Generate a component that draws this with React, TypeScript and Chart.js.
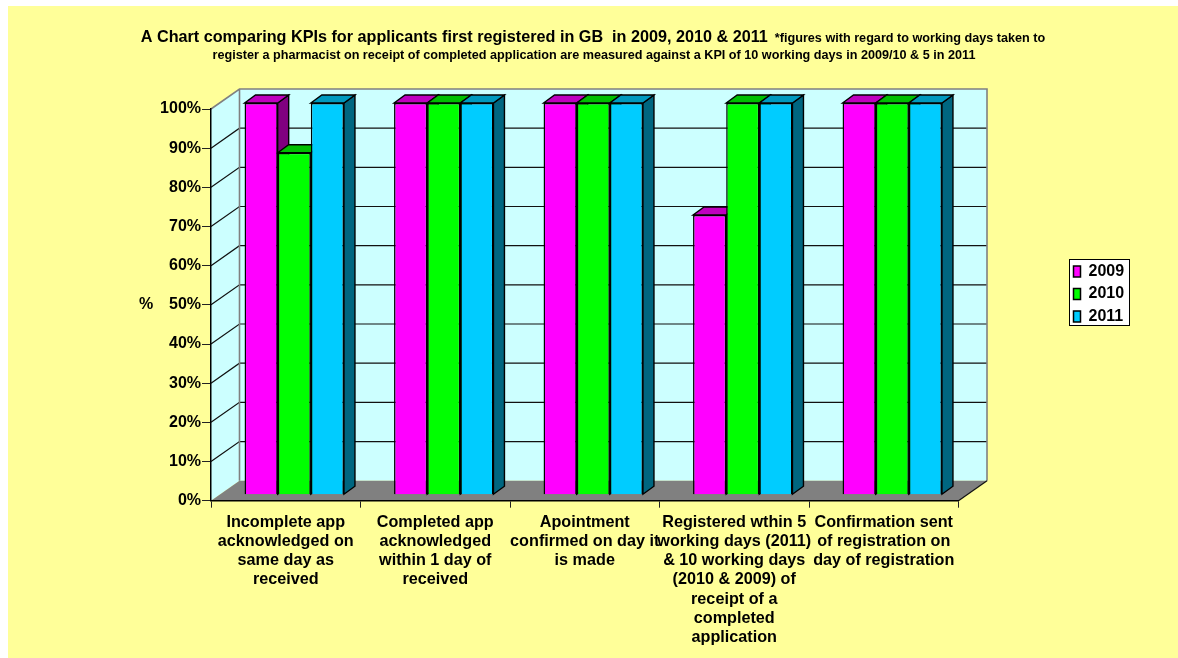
import React, { useEffect, useRef } from "react";
import { Chart, registerables } from "chart.js";

Chart.register(...registerables);

const categories: string[][] = [
  ["Incomplete app", "acknowledged on", "same day as", "received"],
  ["Completed app", "acknowledged", "within 1 day of", "received"],
  ["Apointment", "confirmed on day it", "is made"],
  ["Registered wthin 5", "working days (2011)", "& 10 working days", "(2010 & 2009) of", "receipt of a", "completed", "application"],
  ["Confirmation sent", "of registration on", "day of registration"],
];
const series2009 = [100, 100, 100, 71.4, 100];
const series2010 = [87.3, 100, 100, 100, 100];
const series2011 = [100, 100, 100, 100, 100];
const seriesNames = ["2009", "2010", "2011"];
const frontColors = ["#FF00FF", "#00FF00", "#00CCFF"];
const topColors = ["#BF00BF", "#00BF00", "#0099BF"];
const sideColors = ["#800080", "#008000", "#006680"];

const titleMain = "A Chart comparing KPIs for applicants first registered in GB  in 2009, 2010 & 2011";
const titleNote = "  *figures with regard to working days taken to";
const titleLine2 = "register a pharmacist on receipt of completed application are measured against a KPI of 10 working days in 2009/10 & 5 in 2011";
const yAxisTitle = "%";

const FONT = '"Liberation Sans", Arial, sans-serif';
const CANVAS_W = 1170;
const CANVAS_H = 652;
const WALL_DX = 28.5;
const WALL_DY = -20;
const BAR_DX = 8.5;
const BAR_DY = -6;
const DEPTH_DX = 11;
const DEPTH_DY = -8;

function poly(ctx: CanvasRenderingContext2D, pts: number[][], fill?: string, stroke?: string, lw = 1) {
  ctx.beginPath();
  pts.forEach((p, i) => (i ? ctx.lineTo(p[0], p[1]) : ctx.moveTo(p[0], p[1])));
  ctx.closePath();
  if (fill) {
    ctx.fillStyle = fill;
    ctx.fill();
  }
  if (stroke) {
    ctx.strokeStyle = stroke;
    ctx.lineWidth = lw;
    ctx.stroke();
  }
}

const scene3d = {
  id: "scene3d",
  afterLayout(chart: any) {
    const lg = chart.legend;
    lg.left = 1059;
    lg.right = 1160;
    lg.top = 251;
    lg.bottom = 420;
    lg.adjustHitBoxes();
  },
  beforeDraw(chart: any) {
    const { ctx, chartArea: a, scales } = chart;
    const L = a.left, R = a.right, T = a.top, B = a.bottom;
    ctx.save();
    ctx.fillStyle = "#FFFF99";
    ctx.fillRect(0, 0, CANVAS_W, CANVAS_H);

    // title lines: one run of large text, one of small text on the first line
    ctx.fillStyle = "#000";
    ctx.textBaseline = "alphabetic";
    ctx.textAlign = "left";
    const big = `bold 16.2px ${FONT}`;
    const small = `bold 12.65px ${FONT}`;
    ctx.font = big;
    const w1 = ctx.measureText(titleMain).width;
    ctx.font = small;
    const w2 = ctx.measureText(titleNote).width;
    const x0 = 585 - (w1 + w2) / 2;
    ctx.font = big;
    ctx.fillText(titleMain, x0, 35.5);
    ctx.font = small;
    ctx.fillText(titleNote, x0 + w1, 35.5);
    ctx.textAlign = "center";
    ctx.fillText(titleLine2, 586, 52.5);

    // horizontal axis title, which the library would rotate
    ctx.font = `bold 16px ${FONT}`;
    ctx.textBaseline = "middle";
    ctx.fillText(yAxisTitle, 138, (T + B) / 2 - 0.5);

    // walls and floor
    const bx = L + WALL_DX, by = WALL_DY;
    poly(ctx, [[L, T], [bx, T + by], [bx, B + by], [L, B]], "#CCFFFF");
    poly(ctx, [[bx, T + by], [R + WALL_DX, T + by], [R + WALL_DX, B + by], [bx, B + by]], "#CCFFFF");
    poly(ctx, [[L, B], [bx, B + by], [R + WALL_DX, B + by], [R, B]], "#808080");

    // gridlines on the two walls
    ctx.strokeStyle = "#111";
    ctx.lineWidth = 1.2;
    for (const t of scales.y.ticks) {
      if (t.value === 0 || t.value === 100) continue;
      const y = scales.y.getPixelForValue(t.value);
      ctx.beginPath();
      ctx.moveTo(L, y);
      ctx.lineTo(bx, y + by);
      ctx.lineTo(R + WALL_DX, y + by);
      ctx.stroke();
    }
    // wall outline
    ctx.strokeStyle = "#808080";
    ctx.lineWidth = 1.6;
    ctx.beginPath();
    ctx.moveTo(L, T);
    ctx.lineTo(bx, T + by);
    ctx.lineTo(R + WALL_DX, T + by);
    ctx.lineTo(R + WALL_DX, B + by);
    ctx.moveTo(bx, T + by);
    ctx.lineTo(bx, B + by);
    ctx.stroke();
    ctx.strokeStyle = "#111";
    ctx.lineWidth = 1.2;
    ctx.beginPath();
    ctx.moveTo(R, B);
    ctx.lineTo(R + WALL_DX, B + by);
    ctx.stroke();
    // legend frame
    ctx.fillStyle = "#FFFFFF";
    ctx.strokeStyle = "#000";
    ctx.lineWidth = 1;
    ctx.fillRect(1061.5, 253.5, 60, 66);
    ctx.strokeRect(1061.5, 253.5, 60, 66);
    ctx.restore();
  },
  beforeDatasetsDraw(chart: any) {
    const { ctx } = chart;
    // legend swatches, wider than the gap the library leaves for them
    ctx.save();
    chart.legend.legendHitBoxes.forEach((hb: any, i: number) => {
      const x = Math.round(hb.left) + 0.5;
      const y = Math.round(hb.top + hb.height / 2 - 5.5) + 0.5;
      ctx.fillStyle = frontColors[i];
      ctx.strokeStyle = "#000";
      ctx.lineWidth = 1.2;
      ctx.fillRect(x, y, 10.5, 10.5);
      ctx.strokeRect(x, y, 10.5, 10.5);
    });
    ctx.restore();

    ctx.save();
    ctx.translate(BAR_DX, BAR_DY);
    chart.data.datasets.forEach((_: any, di: number) => {
      chart.getDatasetMeta(di).data.forEach((bar: any) => {
        const { x, y, base, width } = bar.getProps(["x", "y", "base", "width"], true);
        const l = x - width / 2;
        const r = x + width / 2;
        poly(ctx, [[r, y], [r + DEPTH_DX, y + DEPTH_DY], [r + DEPTH_DX, base + DEPTH_DY], [r, base]], sideColors[di], "#000", 1.4);
        poly(ctx, [[l, y], [l + DEPTH_DX, y + DEPTH_DY], [r + DEPTH_DX, y + DEPTH_DY], [r, y]], topColors[di], "#000", 1.4);
      });
    });
  },
  afterDatasetsDraw(chart: any) {
    chart.ctx.restore();
  },
};

const tickFont = { family: FONT, size: 16, weight: "bold" as const };

export default function App() {
  const ref = useRef<HTMLCanvasElement>(null);
  useEffect(() => {
    const canvas = ref.current!;
    const values = [series2009, series2010, series2011];
    const chart = new Chart(canvas, {
      type: "bar",
      data: {
        labels: categories as any,
        datasets: seriesNames.map((name, i) => ({
          label: name,
          data: values[i],
          backgroundColor: frontColors[i],
          borderColor: "#000",
          borderWidth: 1.5,
          barPercentage: 1,
          categoryPercentage: 0.665,
          clip: false as any,
        })),
      },
      options: {
        responsive: false,
        animation: false,
        layout: { padding: { left: 125, right: 219.5, top: 103, bottom: 0 } },
        plugins: {
          title: { display: false },
          tooltip: { enabled: false },
          legend: {
            position: "chartArea" as any,
            align: "start",
            labels: {
              boxWidth: 7,
              boxHeight: 11,
              padding: 6.5,
              color: "#000",
              font: { family: FONT, size: 16, weight: "bold" },
            },
          },
        },
        scales: {
          x: {
            afterFit: (s: any) => {
              s.height = 157.3;
            },
            grid: { drawOnChartArea: false, drawTicks: true, tickLength: 7, color: "#222", lineWidth: 1 },
            border: { display: true, color: "#000", width: 1.5 },
            ticks: {
              autoSkip: false,
              maxRotation: 0,
              minRotation: 0,
              padding: 5,
              color: "#000",
              font: { ...tickFont, size: 16.2, lineHeight: 1.185 },
            },
          },
          y: {
            min: 0,
            max: 100,
            afterFit: (s: any) => {
              s.width = 78;
            },
            grid: { drawOnChartArea: false, drawTicks: true, tickLength: 9, color: "#222", lineWidth: 1 },
            border: { display: true, color: "#000", width: 1.5 },
            ticks: {
              stepSize: 10,
              padding: 1,
              color: "#000",
              font: tickFont,
              callback: (v: any) => `${v}%`,
            },
          },
        },
      },
      plugins: [scene3d],
    });
    return () => chart.destroy();
  }, []);
  return (
    <div style={{ position: "absolute", left: 8, top: 6, width: CANVAS_W, height: CANVAS_H }}>
      <canvas ref={ref} width={CANVAS_W} height={CANVAS_H} style={{ display: "block" }} />
    </div>
  );
}
